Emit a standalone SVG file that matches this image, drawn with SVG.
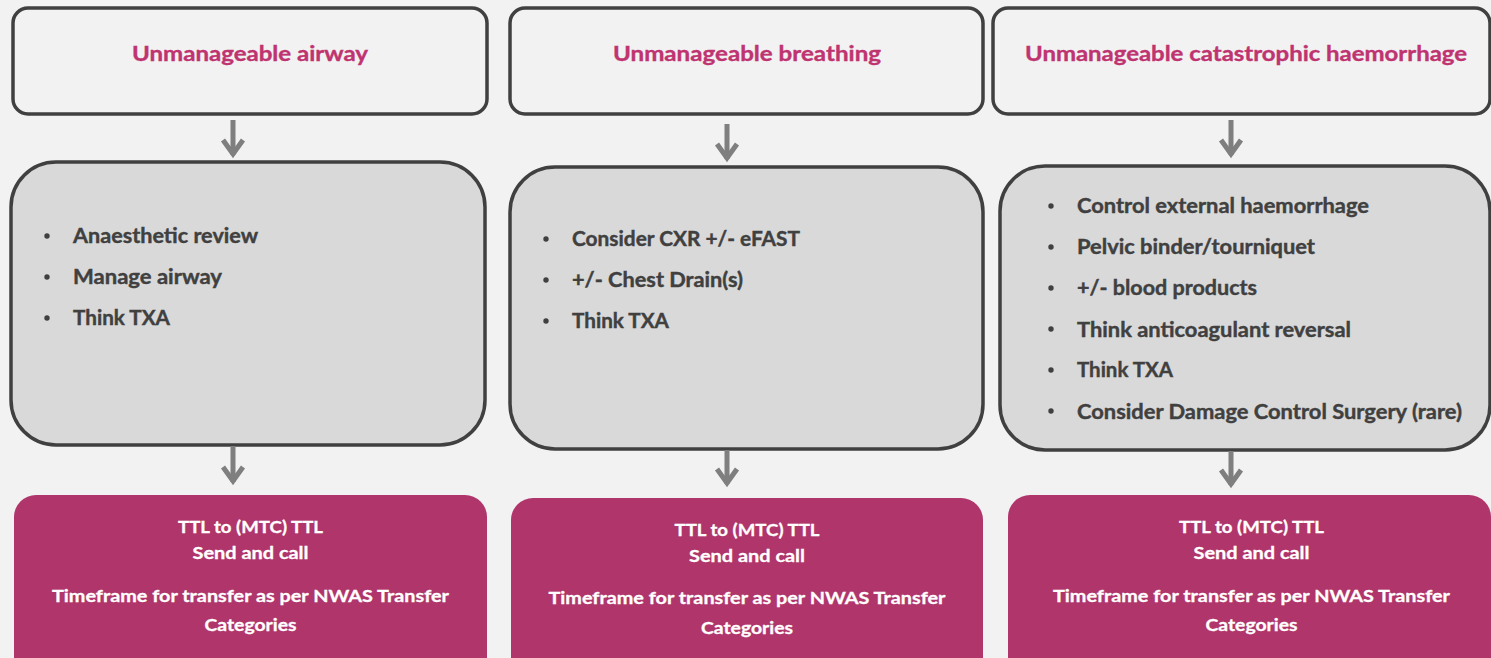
<svg xmlns="http://www.w3.org/2000/svg" width="1491" height="658" viewBox="0 0 1491 658">
<style>
.top{fill:#f2f2f2;stroke:#404040;stroke-width:3.5}
.mid{fill:#d9d9d9;stroke:#404040;stroke-width:3.5}
.bot{fill:#b0356b;stroke:none}
.title{font-family:Lato,"Open Sans",sans-serif;font-weight:700;font-size:20px;fill:#bf3470;stroke:#bf3470;stroke-width:0.35;text-anchor:middle}
.item{font-family:Lato,"Open Sans",sans-serif;font-weight:700;font-size:20px;fill:#404040;stroke:#404040;stroke-width:0.4}
.white{font-family:Lato,"Open Sans",sans-serif;font-weight:700;font-size:17px;fill:#ffffff;stroke:#ffffff;stroke-width:0.3;text-anchor:middle}
.dot{fill:#404040}
.conn path{fill:none;stroke:#7f7f7f;stroke-width:5}
.conn .head{stroke-width:5;stroke-linejoin:miter;stroke-linecap:butt}
</style>
<rect width="1491" height="658" fill="#f2f2f2"/>

<g id="top-airway"><rect class="top" x="13" y="8" width="474" height="106" rx="15"/>
<text class="title" x="250" y="61" textLength="236" lengthAdjust="spacingAndGlyphs">Unmanageable airway</text></g>
<g id="top-breathing"><rect class="top" x="510" y="8" width="473" height="106" rx="15"/>
<text class="title" x="747" y="61" textLength="268" lengthAdjust="spacingAndGlyphs">Unmanageable breathing</text></g>
<g id="top-haemorrhage"><rect class="top" x="993" y="8" width="497" height="106" rx="15"/>
<text class="title" x="1246" y="61" textLength="442" lengthAdjust="spacingAndGlyphs">Unmanageable catastrophic haemorrhage</text></g>

<g id="mid-airway"><rect class="mid" x="11" y="162" width="474" height="283" rx="45"/>
<circle class="dot" cx="47" cy="236" r="2.7"/><text class="item" x="73" y="243" textLength="185" lengthAdjust="spacingAndGlyphs">Anaesthetic review</text>
<circle class="dot" cx="47" cy="277" r="2.7"/><text class="item" x="73" y="284" textLength="149" lengthAdjust="spacingAndGlyphs">Manage airway</text>
<circle class="dot" cx="47" cy="318" r="2.7"/><text class="item" x="73" y="325" textLength="97" lengthAdjust="spacingAndGlyphs">Think TXA</text></g>

<g id="mid-breathing"><rect class="mid" x="510" y="167" width="473" height="282" rx="45"/>
<circle class="dot" cx="546" cy="239" r="2.7"/><text class="item" x="572" y="246" textLength="228" lengthAdjust="spacingAndGlyphs">Consider CXR +/- eFAST</text>
<circle class="dot" cx="546" cy="280" r="2.7"/><text class="item" x="572" y="287" textLength="171" lengthAdjust="spacingAndGlyphs">+/- Chest Drain(s)</text>
<circle class="dot" cx="546" cy="321" r="2.7"/><text class="item" x="572" y="328" textLength="97" lengthAdjust="spacingAndGlyphs">Think TXA</text></g>

<g id="mid-haemorrhage"><rect class="mid" x="1000" y="166" width="490" height="284" rx="45"/>
<circle class="dot" cx="1051" cy="206" r="2.7"/><text class="item" x="1077" y="213" textLength="292" lengthAdjust="spacingAndGlyphs">Control external haemorrhage</text>
<circle class="dot" cx="1051" cy="247" r="2.7"/><text class="item" x="1077" y="254" textLength="238" lengthAdjust="spacingAndGlyphs">Pelvic binder/tourniquet</text>
<circle class="dot" cx="1051" cy="288" r="2.7"/><text class="item" x="1077" y="295" textLength="180" lengthAdjust="spacingAndGlyphs">+/- blood products</text>
<circle class="dot" cx="1051" cy="329" r="2.7"/><text class="item" x="1077" y="337" textLength="274" lengthAdjust="spacingAndGlyphs">Think anticoagulant reversal</text>
<circle class="dot" cx="1051" cy="370" r="2.7"/><text class="item" x="1077" y="377" textLength="96" lengthAdjust="spacingAndGlyphs">Think TXA</text>
<circle class="dot" cx="1051" cy="411" r="2.7"/><text class="item" x="1077" y="419" textLength="385" lengthAdjust="spacingAndGlyphs">Consider Damage Control Surgery (rare)</text></g>

<g id="bot-airway"><rect class="bot" x="14" y="495" width="473" height="185" rx="22"/>
<text class="white" x="250.5" y="533" textLength="145" lengthAdjust="spacingAndGlyphs">TTL to (MTC) TTL</text>
<text class="white" x="250.5" y="559" textLength="116" lengthAdjust="spacingAndGlyphs">Send and call</text>
<text class="white" x="250.5" y="602" textLength="397" lengthAdjust="spacingAndGlyphs">Timeframe for transfer as per NWAS Transfer</text>
<text class="white" x="250.5" y="631" textLength="92" lengthAdjust="spacingAndGlyphs">Categories</text></g>

<g id="bot-breathing"><rect class="bot" x="511" y="498" width="472" height="185" rx="22"/>
<text class="white" x="747" y="536" textLength="145" lengthAdjust="spacingAndGlyphs">TTL to (MTC) TTL</text>
<text class="white" x="747" y="562" textLength="116" lengthAdjust="spacingAndGlyphs">Send and call</text>
<text class="white" x="747" y="604" textLength="397" lengthAdjust="spacingAndGlyphs">Timeframe for transfer as per NWAS Transfer</text>
<text class="white" x="747" y="634" textLength="92" lengthAdjust="spacingAndGlyphs">Categories</text></g>

<g id="bot-haemorrhage"><rect class="bot" x="1008" y="495" width="483" height="185" rx="22"/>
<text class="white" x="1251.5" y="533" textLength="145" lengthAdjust="spacingAndGlyphs">TTL to (MTC) TTL</text>
<text class="white" x="1251.5" y="559" textLength="116" lengthAdjust="spacingAndGlyphs">Send and call</text>
<text class="white" x="1251.5" y="602" textLength="397" lengthAdjust="spacingAndGlyphs">Timeframe for transfer as per NWAS Transfer</text>
<text class="white" x="1251.5" y="631" textLength="92" lengthAdjust="spacingAndGlyphs">Categories</text></g>

<g id="connectors" class="conn">
<path d="M233 120V155"/><path class="head" d="M223 140L233 154L243 140"/>
<path d="M727 124V159"/><path class="head" d="M717 144L727 158L737 144"/>
<path d="M1231 120V155"/><path class="head" d="M1221 140L1231 154L1241 140"/>
<path d="M233 446V482"/><path class="head" d="M223 467L233 481L243 467"/>
<path d="M727 450V484"/><path class="head" d="M717 469L727 483L737 469"/>
<path d="M1231 451V485"/><path class="head" d="M1221 470L1231 484L1241 470"/>
</g>
</svg>
